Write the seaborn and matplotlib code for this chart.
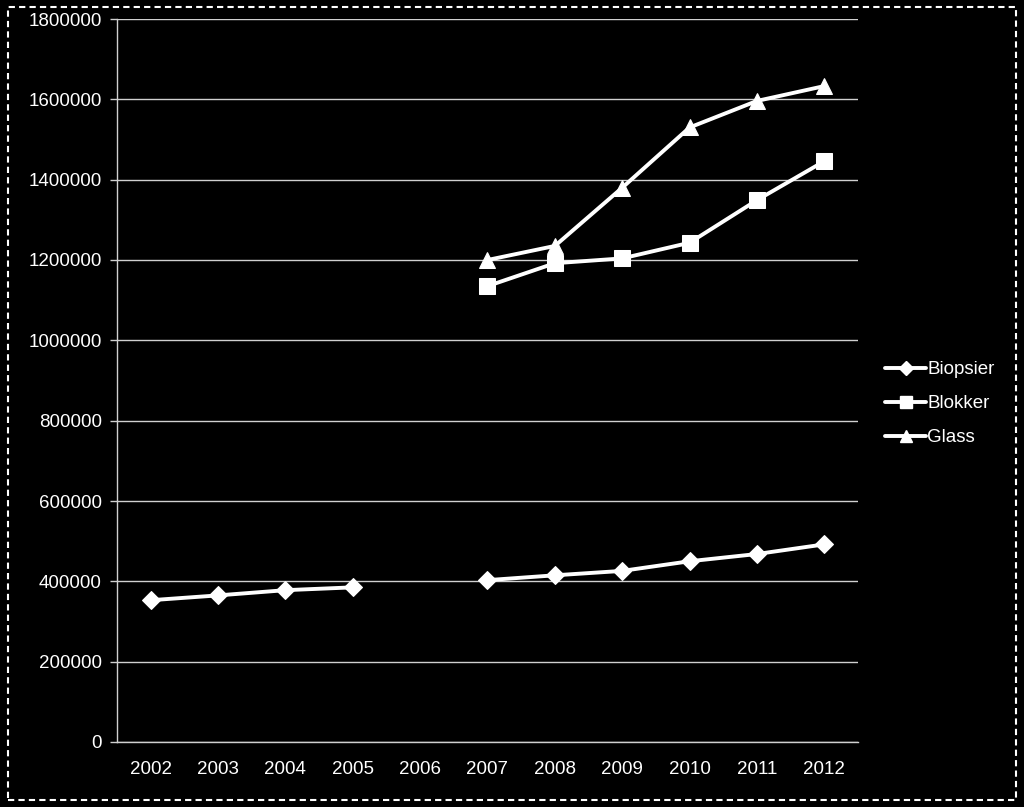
import numpy as np
import pandas as pd
import matplotlib
matplotlib.use("Agg")
import matplotlib.pyplot as plt
from matplotlib.lines import Line2D
from matplotlib.patches import Rectangle
import seaborn as sns

years = [2002, 2003, 2004, 2005, 2006, 2007, 2008, 2009, 2010, 2011, 2012]
biopsier = [353000, 365000, 378000, 385000, np.nan, 403000, 415000, 426000, 450000, 468000, 492000]
blokker = [np.nan, np.nan, np.nan, np.nan, np.nan, 1135000, 1192000, 1204000, 1243000, 1349000, 1446000]
glass = [np.nan, np.nan, np.nan, np.nan, np.nan, 1200000, 1235000, 1380000, 1530000, 1596000, 1633000]
series_names = ["Biopsier", "Blokker", "Glass"]
y_ticks = list(range(0, 1800001, 200000))

rows = []
for name, vals in zip(series_names, [biopsier, blokker, glass]):
    seg = 0
    for yr, v in zip(years, vals):
        if np.isnan(v):
            seg += 1
            continue
        rows.append({"series": name, "year": yr, "value": v, "segment": f"{name}-{seg}"})
df = pd.DataFrame(rows)

sns.set_style("dark")
plt.rcParams["font.family"] = ["Liberation Sans", "DejaVu Sans"]

fig = plt.figure(figsize=(10.24, 8.07), dpi=100, facecolor="black")
ax = fig.add_axes([117/1024, 1-742/807, (858-117)/1024, (742-19)/807])
ax.set_facecolor("black")

markers = {"Biopsier": "D", "Blokker": "s", "Glass": "^"}
msizes = {"Biopsier": 9, "Blokker": 11, "Glass": 11.5}
for name in series_names:
    sub = df[df.series == name]
    sns.lineplot(data=sub, x="year", y="value", units="segment", estimator=None,
                 color="white", marker=markers[name], markersize=msizes[name],
                 markeredgecolor="white", linewidth=2.8, ax=ax, legend=False)

ax.set_xlim(2001.5, 2012.5)
ax.set_ylim(0, 1800000)
ax.set_xticks(years)
ax.set_xticklabels([str(y) for y in years])
ax.set_yticks(y_ticks)
ax.set_yticklabels([str(v) for v in y_ticks])
ax.set_xlabel("")
ax.set_ylabel("")
ax.grid(axis="y", color="#d0d0d0", linewidth=1)
ax.grid(axis="x", visible=False)
ax.tick_params(axis="y", colors="#d0d0d0", labelcolor="white", labelsize=13.5, length=5, width=1, left=True, pad=6)
ax.tick_params(axis="x", colors="#d0d0d0", labelcolor="white", labelsize=13.5, length=0, pad=14)
for s in ["top", "right"]:
    ax.spines[s].set_visible(False)
for s in ["left", "bottom"]:
    ax.spines[s].set_visible(True)
    ax.spines[s].set_color("#d0d0d0")
    ax.spines[s].set_linewidth(1)

handles = [Line2D([0], [0], color="white", lw=2.8, marker=markers[n], markersize=msizes[n] * 0.75,
                  markeredgecolor="white") for n in series_names]
leg = fig.legend(handles, series_names, loc="center left", bbox_to_anchor=(0.848, 0.5),
                 frameon=False, labelcolor="white", fontsize=13.5, handlelength=2.2,
                 handletextpad=0.05, labelspacing=0.9)

fig.patches.append(Rectangle((8/1024, 7/807), 1008/1024, 793/807, transform=fig.transFigure,
                             fill=False, edgecolor="white", linestyle=(0, (3, 2)), linewidth=1.5))

fig.savefig("out.png", dpi=100, facecolor="black")
